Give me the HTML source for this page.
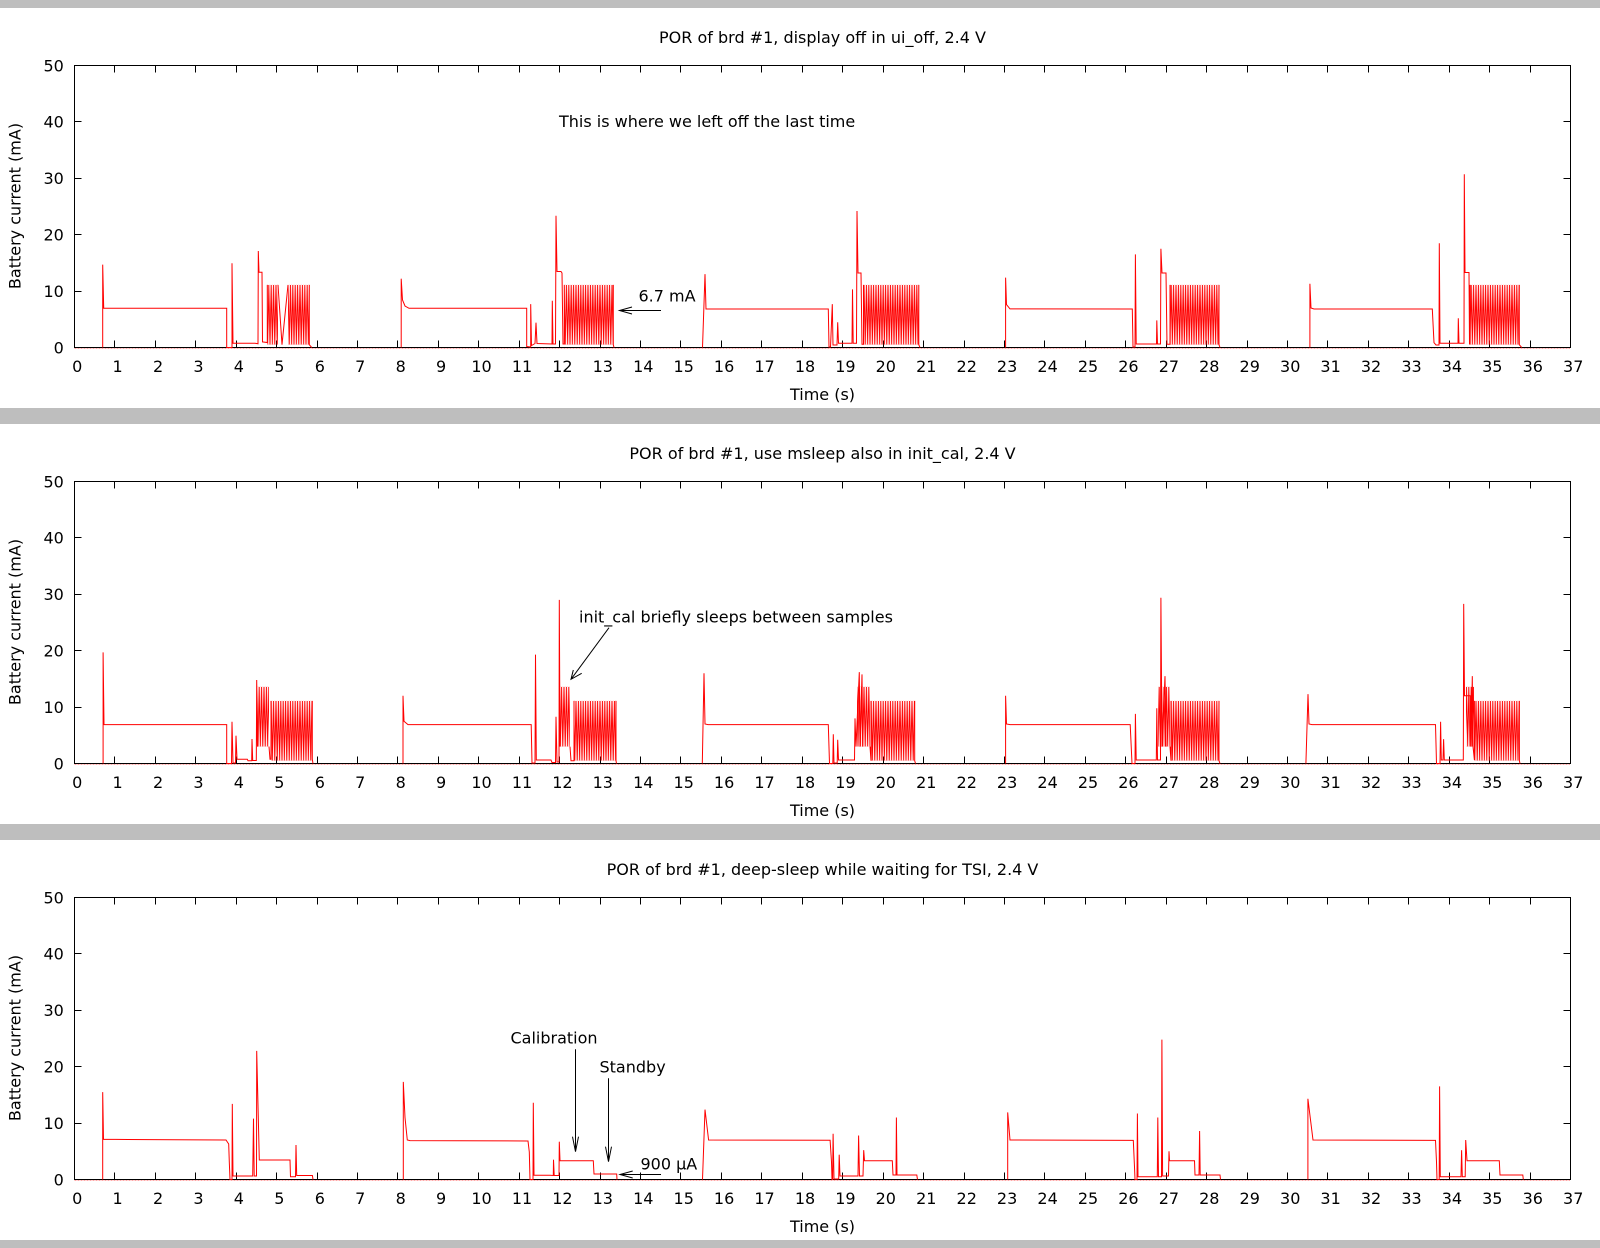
<!DOCTYPE html>
<html><head><meta charset="utf-8"><style>html,body{margin:0;padding:0;background:#fff}svg{display:block}</style></head>
<body>
<svg xmlns="http://www.w3.org/2000/svg" width="1600" height="1248" viewBox="0 0 1600 1248">
<defs>
<pattern id="p11" patternUnits="userSpaceOnUse" x="0" y="284.9" width="2.4" height="59.8"><path d="M0,0L1.2,59.8L2.4,0" fill="none" stroke="#f00" stroke-width="1"/></pattern>
<pattern id="p13" patternUnits="userSpaceOnUse" x="0" y="270.8" width="2.4" height="59.8"><path d="M0,0L1.2,59.8L2.4,0" fill="none" stroke="#f00" stroke-width="1"/></pattern>
<g id="frame">
<rect x="74.5" y="65.5" width="1496" height="282" fill="none" stroke="#000" stroke-width="1"/>
<path fill="none" stroke="#000" stroke-width="1" d="M114.5,347.5v-7M155.5,347.5v-7M195.5,347.5v-7M236.5,347.5v-7M276.5,347.5v-7M317.5,347.5v-7M357.5,347.5v-7M397.5,347.5v-7M438.5,347.5v-7M478.5,347.5v-7M519.5,347.5v-7M559.5,347.5v-7M600.5,347.5v-7M640.5,347.5v-7M680.5,347.5v-7M721.5,347.5v-7M761.5,347.5v-7M802.5,347.5v-7M842.5,347.5v-7M883.5,347.5v-7M923.5,347.5v-7M964.5,347.5v-7M1004.5,347.5v-7M1044.5,347.5v-7M1085.5,347.5v-7M1125.5,347.5v-7M1166.5,347.5v-7M1206.5,347.5v-7M1247.5,347.5v-7M1287.5,347.5v-7M1327.5,347.5v-7M1368.5,347.5v-7M1408.5,347.5v-7M1449.5,347.5v-7M1489.5,347.5v-7M1530.5,347.5v-7
M114.5,65.5v7M155.5,65.5v7M195.5,65.5v7M236.5,65.5v7M276.5,65.5v7M317.5,65.5v7M357.5,65.5v7M397.5,65.5v7M438.5,65.5v7M478.5,65.5v7M519.5,65.5v7M559.5,65.5v7M600.5,65.5v7M640.5,65.5v7M680.5,65.5v7M721.5,65.5v7M761.5,65.5v7M802.5,65.5v7M842.5,65.5v7M883.5,65.5v7M923.5,65.5v7M964.5,65.5v7M1004.5,65.5v7M1044.5,65.5v7M1085.5,65.5v7M1125.5,65.5v7M1166.5,65.5v7M1206.5,65.5v7M1247.5,65.5v7M1287.5,65.5v7M1327.5,65.5v7M1368.5,65.5v7M1408.5,65.5v7M1449.5,65.5v7M1489.5,65.5v7M1530.5,65.5v7
M74.5,121.5h7M74.5,178.5h7M74.5,234.5h7M74.5,291.5h7M1570.5,121.5h-7M1570.5,178.5h-7M1570.5,234.5h-7M1570.5,291.5h-7"/>
<line x1="74.5" y1="348.5" x2="1570" y2="348.5" stroke="#ffa8a8" stroke-width="1" stroke-dasharray="2,1"/>
</g>
</defs>
<rect x="0" y="0" width="1600" height="1248" fill="#fff"/>
<rect x="0" y="0" width="1600" height="8" fill="#bebebe"/>
<rect x="0" y="408" width="1600" height="16" fill="#bebebe"/>
<rect x="0" y="824" width="1600" height="16" fill="#bebebe"/>
<rect x="0" y="1240" width="1600" height="8" fill="#bebebe"/>

<g font-family="DejaVu Sans, Liberation Sans, sans-serif" font-size="16" fill="#000">

<!-- ================= PANEL 1 ================= -->
<g>
<use href="#frame"/>
<text x="822.5" y="43" text-anchor="middle">POR of brd #1, display off in ui_off, 2.4 V</text>
<text x="822.5" y="400" text-anchor="middle">Time (s)</text>
<text transform="translate(20.5,206) rotate(-90)" text-anchor="middle">Battery current (mA)</text>
<g text-anchor="end">
<text x="63.8" y="353.3">0</text><text x="63.8" y="296.9">10</text><text x="63.8" y="240.5">20</text><text x="63.8" y="184.1">30</text><text x="63.8" y="127.7">40</text><text x="63.8" y="71.3">50</text>
</g>
<g text-anchor="middle">
<text x="77.2" y="372">0</text><text x="117.6" y="372">1</text><text x="158.1" y="372">2</text><text x="198.5" y="372">3</text><text x="238.9" y="372">4</text><text x="279.4" y="372">5</text><text x="319.8" y="372">6</text><text x="360.2" y="372">7</text><text x="400.7" y="372">8</text><text x="441.1" y="372">9</text><text x="481.5" y="372">10</text><text x="522" y="372">11</text><text x="562.4" y="372">12</text><text x="602.8" y="372">13</text><text x="643.3" y="372">14</text><text x="683.7" y="372">15</text><text x="724.1" y="372">16</text><text x="764.5" y="372">17</text><text x="805" y="372">18</text><text x="845.4" y="372">19</text><text x="885.8" y="372">20</text><text x="926.3" y="372">21</text><text x="966.7" y="372">22</text><text x="1007.1" y="372">23</text><text x="1047.6" y="372">24</text><text x="1088" y="372">25</text><text x="1128.4" y="372">26</text><text x="1168.9" y="372">27</text><text x="1209.3" y="372">28</text><text x="1249.7" y="372">29</text><text x="1290.2" y="372">30</text><text x="1330.6" y="372">31</text><text x="1371" y="372">32</text><text x="1411.5" y="372">33</text><text x="1451.9" y="372">34</text><text x="1492.3" y="372">35</text><text x="1532.8" y="372">36</text><text x="1573.2" y="372">37</text>
</g>
<g fill="url(#p11)">
<rect x="267.3" y="284.9" width="10.7" height="59.8"/><rect x="288" y="284.9" width="21.3" height="59.8"/>
<rect x="564.3" y="284.9" width="49" height="59.8"/><rect x="863.5" y="284.9" width="55.3" height="59.8"/>
<rect x="1170" y="284.9" width="49" height="59.8"/><rect x="1470" y="284.9" width="49.3" height="59.8"/>
</g>
<path fill="none" stroke="#f00" stroke-width="1" d="
M102.7,347.5L102.7,264.6L103.7,308.3L226.7,308.3L226.7,347.5L232,347.5L232,263.3L233,343.3L255,343.3L258,343.8L258.3,251L259,272.3L262,272.3L262.5,341.9L267.3,342.5L267.3,284.9
M278,284.9L282,344.7L288,284.9M309.3,284.9L309.3,344.7L311.7,347.5
M401.2,347.5L401.2,278.7L402.5,300L405,306L409,308.3L526.7,308.3L526.7,346.5L530.7,347L530.7,304.1L531.5,345.5L535,343.5L536,322.7L537,343.5L552,344L552.3,300.7L553,344L555.5,344L556,215.7L557,271.5L561,271.5L562,273L563,344L564.3,344L564.3,284.9
M613.3,284.9L613.3,344.7L614,347.5
M702.5,347.5L705,274.2L706,309L828.3,309L829,347L830.5,347L832.3,304.1L833,345L837,345L837.7,322.3L838.5,343.3L852,343.3L852.5,289.4L853.2,343.3L856.5,343.3L857,211L858,273L861,273L862,344.2L863.5,344.2L863.5,284.9
M918.8,284.9L918.8,344.7L920,347.5
M1005.6,347.5L1005.6,277.6L1006.5,304.6L1010,308.9L1132.3,309L1133,347L1135,347L1135.4,254.4L1136.2,344L1156.5,344L1156.8,320.4L1157.5,344L1160.5,344L1160.9,248.8L1162,273L1166,273L1167,344.2L1170,344.2L1170,284.9
M1219,284.9L1219,344.7L1220,347.5
M1309.9,347.5L1309.9,283.8L1311,308L1314,309L1432.3,309L1434,342.7L1436,345L1439,345L1439.3,243.2L1440,343.3L1458,343.3L1458.3,318.3L1459,343.3L1464,343.3L1464.3,174.3L1465,272.5L1469,272.5L1469.5,344L1470,344L1470,284.9
M1519.3,284.9L1519.3,344.7L1521.7,347.5"/>
<text x="559" y="126.8">This is where we left off the last time</text>
<text x="638.5" y="301.7">6.7 mA</text>
<path fill="none" stroke="#000" stroke-width="1" d="M661,310.5H619.5M632,307L619.5,310.5L632,314"/>
</g>

<!-- ================= PANEL 2 ================= -->
<g transform="translate(0,416)">
<use href="#frame"/>
<text x="822.5" y="43" text-anchor="middle">POR of brd #1, use msleep also in init_cal, 2.4 V</text>
<text x="822.5" y="400" text-anchor="middle">Time (s)</text>
<text transform="translate(20.5,206) rotate(-90)" text-anchor="middle">Battery current (mA)</text>
<g text-anchor="end">
<text x="63.8" y="353.3">0</text><text x="63.8" y="296.9">10</text><text x="63.8" y="240.5">20</text><text x="63.8" y="184.1">30</text><text x="63.8" y="127.7">40</text><text x="63.8" y="71.3">50</text>
</g>
<g text-anchor="middle">
<text x="77.2" y="372">0</text><text x="117.6" y="372">1</text><text x="158.1" y="372">2</text><text x="198.5" y="372">3</text><text x="238.9" y="372">4</text><text x="279.4" y="372">5</text><text x="319.8" y="372">6</text><text x="360.2" y="372">7</text><text x="400.7" y="372">8</text><text x="441.1" y="372">9</text><text x="481.5" y="372">10</text><text x="522" y="372">11</text><text x="562.4" y="372">12</text><text x="602.8" y="372">13</text><text x="643.3" y="372">14</text><text x="683.7" y="372">15</text><text x="724.1" y="372">16</text><text x="764.5" y="372">17</text><text x="805" y="372">18</text><text x="845.4" y="372">19</text><text x="885.8" y="372">20</text><text x="926.3" y="372">21</text><text x="966.7" y="372">22</text><text x="1007.1" y="372">23</text><text x="1047.6" y="372">24</text><text x="1088" y="372">25</text><text x="1128.4" y="372">26</text><text x="1168.9" y="372">27</text><text x="1209.3" y="372">28</text><text x="1249.7" y="372">29</text><text x="1290.2" y="372">30</text><text x="1330.6" y="372">31</text><text x="1371" y="372">32</text><text x="1411.5" y="372">33</text><text x="1451.9" y="372">34</text><text x="1492.3" y="372">35</text><text x="1532.8" y="372">36</text><text x="1573.2" y="372">37</text>
</g>
<g fill="url(#p11)">
<rect x="271" y="284.9" width="41.3" height="59.8"/><rect x="574" y="284.9" width="42" height="59.8"/>
<rect x="871" y="284.9" width="43.7" height="59.8"/><rect x="1171" y="284.9" width="48" height="59.8"/>
<rect x="1474.4" y="284.9" width="45" height="59.8"/>
</g>
<g fill="url(#p13)">
<rect x="257.5" y="270.8" width="11.5" height="59.8"/><rect x="560" y="270.8" width="10" height="59.8"/>
<rect x="857" y="270.8" width="13" height="59.8"/><rect x="1158" y="270.8" width="12" height="59.8"/>
<rect x="1466" y="270.8" width="8" height="59.8"/>
</g>
<path fill="none" stroke="#f00" stroke-width="1" d="
M103.1,347.5L103.1,236.4L104,308.6L226.7,308.6L226.7,347.5L231.5,347.5L232,305.7L233,347L235.5,347L236,319.7L237,343.3L247.3,343.3L248,344.7L251.7,344.7L252,323L252.7,344.5L256.3,344.5L256.7,264L257.5,330.6
M269,330.6L270,343.3L271,343.3L271,284.9M312.3,284.9L312.3,343.3L313,347.5
M403,347.5L403,279.8L404,305.2L408,308.6L531.2,308.6L532,347L535,347L535.5,238.6L536.3,344L551,344L552,346.5L555.5,346.5L556,300.7L557,346L559,346L559.3,183.9L560,330.6
M570,330.6L571,344.7L574,344.7L574,284.9M616,284.9L616,344.7L616.5,347.5
M702.3,347.5L704,257.3L705,308L708,308.6L828.3,308.6L829.5,347.5L832.8,347.5L833.3,318.2L834,347L837.2,347L837.7,323.8L838.5,344L854.5,344L855,302.4L856,330.6L859.3,256.1L860,330.6L862,258.4L862.7,330.6
M870,330.6L871,344.7L871,284.9M914.7,284.9L914.7,344.7L915.5,347.5
M1005.6,347.5L1005.6,279.8L1006.5,308L1010,308.6L1130.2,308.6L1132,347.5L1135,347.5L1135.4,297.9L1136.2,344L1156.3,344L1156.8,292.2L1157.5,344L1160.5,344L1160.9,181.7L1162,330.6L1165,260.1L1166,330.6
M1170,330.6L1171,344.7L1171,284.9M1219,284.9L1219,344.7L1220,347.5
M1305.9,347.5L1308,278.1L1309,308L1312,308.6L1435.5,308.6L1436.5,347.5L1440,347.5L1440.6,305.8L1441.3,344L1443,344L1443.6,323.2L1444.3,344L1463.3,344L1463.7,187.9L1464.5,279.8L1470.3,279.8L1471,330.6L1472.3,260.1L1473,330.6L1474.4,344L1474.4,284.9
M1519.4,284.9L1519.4,344.7L1520,347.5"/>
<text x="579" y="206.7">init_cal briefly sleeps between samples</text>
<path fill="none" stroke="#000" stroke-width="1" d="M609,211.7L571,263.3M573.3,254L571,263.3L581.7,257.3"/>
</g>

<!-- ================= PANEL 3 ================= -->
<g transform="translate(0,832)">
<use href="#frame"/>
<text x="822.5" y="43" text-anchor="middle">POR of brd #1, deep-sleep while waiting for TSI, 2.4 V</text>
<text x="822.5" y="400" text-anchor="middle">Time (s)</text>
<text transform="translate(20.5,206) rotate(-90)" text-anchor="middle">Battery current (mA)</text>
<g text-anchor="end">
<text x="63.8" y="353.3">0</text><text x="63.8" y="296.9">10</text><text x="63.8" y="240.5">20</text><text x="63.8" y="184.1">30</text><text x="63.8" y="127.7">40</text><text x="63.8" y="71.3">50</text>
</g>
<g text-anchor="middle">
<text x="77.2" y="372">0</text><text x="117.6" y="372">1</text><text x="158.1" y="372">2</text><text x="198.5" y="372">3</text><text x="238.9" y="372">4</text><text x="279.4" y="372">5</text><text x="319.8" y="372">6</text><text x="360.2" y="372">7</text><text x="400.7" y="372">8</text><text x="441.1" y="372">9</text><text x="481.5" y="372">10</text><text x="522" y="372">11</text><text x="562.4" y="372">12</text><text x="602.8" y="372">13</text><text x="643.3" y="372">14</text><text x="683.7" y="372">15</text><text x="724.1" y="372">16</text><text x="764.5" y="372">17</text><text x="805" y="372">18</text><text x="845.4" y="372">19</text><text x="885.8" y="372">20</text><text x="926.3" y="372">21</text><text x="966.7" y="372">22</text><text x="1007.1" y="372">23</text><text x="1047.6" y="372">24</text><text x="1088" y="372">25</text><text x="1128.4" y="372">26</text><text x="1168.9" y="372">27</text><text x="1209.3" y="372">28</text><text x="1249.7" y="372">29</text><text x="1290.2" y="372">30</text><text x="1330.6" y="372">31</text><text x="1371" y="372">32</text><text x="1411.5" y="372">33</text><text x="1451.9" y="372">34</text><text x="1492.3" y="372">35</text><text x="1532.8" y="372">36</text><text x="1573.2" y="372">37</text>
</g>
<path fill="none" stroke="#f00" stroke-width="1" d="
M102.7,347.5L102.7,260.1L103.5,307.3L150,307.6L226,308L228.7,312L229.3,330L230,347.5L232,347.5L232.3,271.9L233,344L252.7,344L253.5,286.6L254.2,344L256.5,344L256.7,218.9L259.3,328L290,328L290.5,344.7L295.5,344.7L296,313L296.7,343.5L312.4,343.5L313,347.5
M403.3,347.5L403.3,249.9L405,285.5L407.3,308L410,308.6L528,309L529.3,320L530,347.5L533,347.5L533.3,270.7L534,343.3L550,343.3L553.3,343.5L553.5,327.7L554.2,343.5L559,343.5L559.3,309.7L560,328.7L593.3,328.7L594,342L616.7,342L617,347.5
M702.5,347.5L705,277.6L708.6,308L830.1,308.2L831.5,330L832,347.5L832.6,347.5L833.1,301.8L834,347L838.7,347L839.2,322.7L840,344L858,344L858.6,303.5L859.5,344L863,344L863.7,318.2L864.5,328.7L892.3,328.7L893,343L896,343L896.4,285.5L897,343L916.8,343L917.5,347.5
M1007.7,347.5L1007.7,280.4L1010,308L1133.3,308.4L1134.5,335L1135,347.5L1137,347.5L1137.4,281.5L1138,344.7L1157.3,344.7L1157.8,285.5L1158.5,344.7L1161.5,344.7L1161.9,207.6L1162.6,344L1168.5,344L1169,319.3L1169.5,328.7L1194.5,328.7L1195,343L1199,343L1199.6,299L1200.2,343L1220,343L1220.5,347.5
M1307.9,347.5L1307.9,266.8L1313,308L1435.5,308.4L1436.5,330L1437,347.5L1439.2,347.5L1439.6,254.4L1440.3,344.7L1461,344.7L1461.6,318.2L1462.3,344.7L1465.2,344.7L1465.7,308L1467,328.7L1499.3,328.7L1500,343L1522.8,343L1523.3,347.5"/>
<text x="510.5" y="211.3">Calibration</text>
<text x="599.5" y="240.3">Standby</text>
<text x="640.5" y="337.3">900 µA</text>
<path fill="none" stroke="#000" stroke-width="1" d="M575.5,217.3V319.7M572.5,304.7L575.5,319.7L578.5,304.7M608.5,246.3V329.7M605.5,314.7L608.5,329.7L611.5,314.7M661,342.5H620M632.7,339L620,342.5L632.7,346"/>
</g>

</g>
</svg>
</body></html>
